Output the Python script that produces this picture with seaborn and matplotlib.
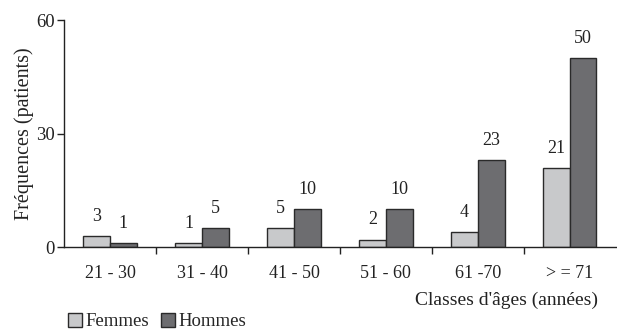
import seaborn as sns
import matplotlib.pyplot as plt
import pandas as pd
from matplotlib.ticker import FixedLocator

# Data
age_classes = ['21 - 30', '31 - 40', '41 - 50', '51 - 60', '61 -70', '> = 71']
femmes = [3, 1, 5, 2, 4, 21]
hommes = [1, 5, 10, 10, 23, 50]

df = pd.DataFrame({
    'classe': age_classes * 2,
    'sexe': ['Femmes'] * len(age_classes) + ['Hommes'] * len(age_classes),
    'n': femmes + hommes,
})

sns.set_style('white')
plt.rcParams['font.family'] = ['Liberation Serif', 'DejaVu Serif']

fig = plt.figure(figsize=(6.17, 3.29), dpi=100)
ax = fig.add_axes([0.104, 0.249, 0.894, 0.690])

sns.barplot(data=df, x='classe', y='n', hue='sexe', order=age_classes,
            palette={'Femmes': '#c8c9cb', 'Hommes': '#6c6d71'},
            edgecolor='#2a2a2a', linewidth=1, width=0.58, ax=ax, legend=True)

# Value labels above bars
for cont in ax.containers:
    ax.bar_label(cont, padding=8, fontsize=13, color='#222222')

ax.set_ylim(0, 60)
ax.set_xlim(-0.5, len(age_classes) - 0.5)
ax.set_yticks([0, 30, 60])
ax.tick_params(axis='y', direction='out', length=5, width=1, labelsize=13.5,
               pad=2, colors='#222222', left=True)
ax.tick_params(axis='x', which='major', length=0, labelsize=13, pad=13,
               colors='#222222')
ax.xaxis.set_minor_locator(FixedLocator([i + 0.5 for i in range(len(age_classes) - 1)]))
ax.tick_params(axis='x', which='minor', direction='out', length=5, width=1,
               color='#222222', bottom=True)

for side in ['top', 'right']:
    ax.spines[side].set_visible(False)
for side in ['left', 'bottom']:
    ax.spines[side].set_color('#222222')
    ax.spines[side].set_linewidth(1)

ax.set_ylabel('Fréquences (patients)', fontsize=14.5, color='#222222', labelpad=1)
ax.set_xlabel("Classes d'âges (années)", fontsize=14, color='#222222', loc='right')
ax.xaxis.set_label_coords(0.967, -0.195)

# Legend below, left side
handles, labels = ax.get_legend_handles_labels()
ax.get_legend().remove()
fig.legend(handles, labels, loc='lower left', bbox_to_anchor=(0.083, -0.055),
           ncol=2, frameon=False, fontsize=13.5, handlelength=0.75,
           handleheight=0.75, handletextpad=0.2, columnspacing=0.6)

fig.savefig('out.png', dpi=100)
